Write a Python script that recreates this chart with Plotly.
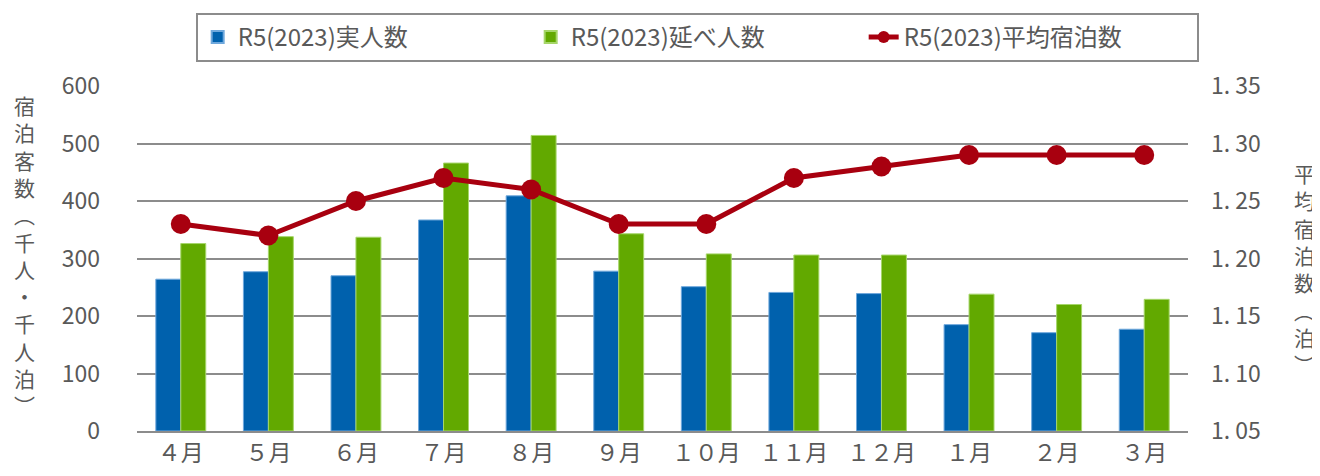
import plotly.graph_objects as go

months = ["４月", "５月", "６月", "７月", "８月", "９月", "１０月", "１１月", "１２月", "１月", "２月", "３月"]
actual = [264, 277, 270, 367, 409, 278, 251, 241, 239, 185, 171, 177]
total = [326, 338, 337, 466, 514, 343, 308, 306, 306, 238, 220, 229]
avg_nights = [1.23, 1.22, 1.25, 1.27, 1.26, 1.23, 1.23, 1.27, 1.28, 1.29, 1.29, 1.29]

left_ticks = [0, 100, 200, 300, 400, 500, 600]
right_ticks = [1.05, 1.10, 1.15, 1.20, 1.25, 1.30, 1.35]
right_ticktext = ["1. 05", "1. 10", "1. 15", "1. 20", "1. 25", "1. 30", "1. 35"]

name_actual = "R5(2023)実人数"
name_total = "R5(2023)延べ人数"
name_avg = "R5(2023)平均宿泊数"
left_title = "宿泊客数︵千人・千人泊︶"
right_title = "平均宿泊数︵泊︶"

FONT = "Noto Sans CJK JP"
TXT = "#595959"

fig = go.Figure()
fig.add_trace(go.Bar(x=months, y=actual, name=name_actual,
                     marker=dict(color="#0061AD", line=dict(color="#6FA8DC", width=1))))
fig.add_trace(go.Bar(x=months, y=total, name=name_total,
                     marker=dict(color="#62A900", line=dict(color="#A6D66A", width=1))))
fig.add_trace(go.Scatter(x=months, y=avg_nights, name=name_avg, yaxis="y2",
                         mode="lines+markers",
                         line=dict(color="#A8000F", width=5),
                         marker=dict(color="#A8000F", size=20)))

# page body has an 8px default margin, so the figure is sized/offset to compensate
fig.update_layout(
    width=1312, height=468,
    margin=dict(l=129, r=132, t=78, b=45, autoexpand=False),
    paper_bgcolor="white", plot_bgcolor="white",
    font=dict(family=FONT, size=23, color=TXT),
    barmode="group", bargap=0.43, bargroupgap=0,
    showlegend=True,
    legend=dict(orientation="h", x=0.533, xanchor="center", y=1.212, yanchor="top",
                bordercolor="#8c8c8c", borderwidth=2, bgcolor="white",
                font=dict(family=FONT, size=24, color=TXT),
                entrywidth=288, entrywidthmode="pixels",
                itemsizing="constant", tracegroupgap=0),
    xaxis=dict(range=[-0.5, len(months) - 0.5], showgrid=False, showline=True,
               linecolor="#8c8c8c", linewidth=2,
               ticks="", tickfont=dict(size=23, color=TXT)),
    yaxis=dict(range=[0, 600], tickvals=left_ticks, showgrid=True, gridcolor="#8c8c8c",
               gridwidth=2, zeroline=False, ticks="", ticklabelstandoff=36,
               tickfont=dict(size=23, color=TXT)),
    yaxis2=dict(range=[1.05, 1.35], tickvals=right_ticks, ticktext=right_ticktext,
                overlaying="y", side="right", showgrid=False, zeroline=False,
                ticks="", ticklabelstandoff=22, tickfont=dict(size=23, color=TXT)),
    annotations=[
        dict(text="<br>".join(list(left_title)), xref="paper", yref="paper",
             x=-0.1066, y=0.51, xanchor="center", yanchor="middle", showarrow=False,
             font=dict(family=FONT, size=21, color=TXT)),
        dict(text="<br>".join(list(right_title)), xref="paper", yref="paper",
             x=1.111, y=0.47, xanchor="center", yanchor="middle", showarrow=False,
             font=dict(family=FONT, size=21, color=TXT)),
    ],
)

fig.write_html("out.html")
